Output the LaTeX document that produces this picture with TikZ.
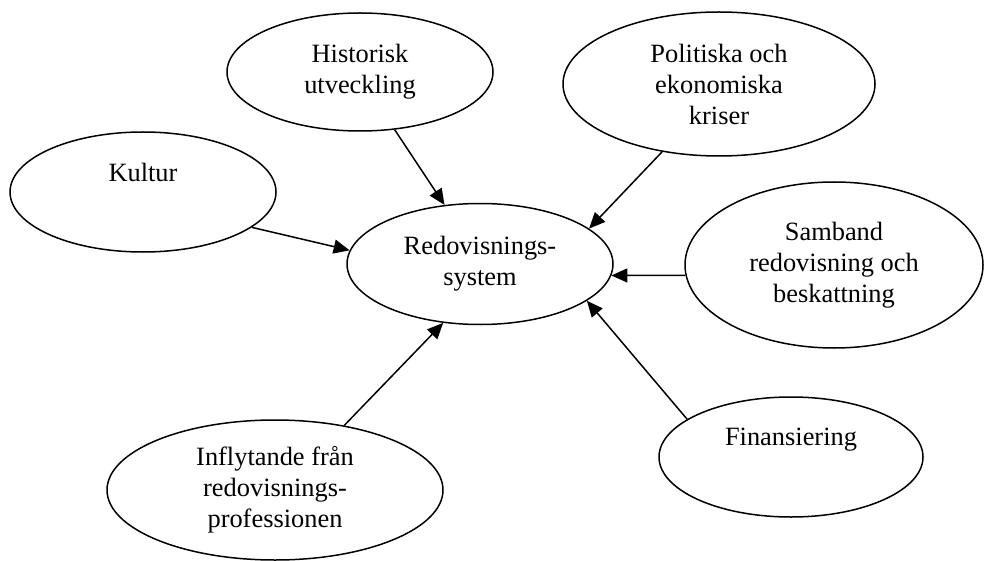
\documentclass[tikz,border=0pt]{standalone}
\usepackage{fontspec}
\setmainfont{Liberation Serif}
\usetikzlibrary{shapes.geometric,arrows.meta}
\begin{document}
\begin{tikzpicture}[x=0.5pt,y=-0.5pt,
  bubble/.style={draw=black, line width=0.75pt, ellipse, inner sep=0pt,
    align=center, font=\fontsize{13.2}{15.5}\selectfont},
  arr/.style={draw=black, line width=0.75pt, -{Triangle[length=8pt,width=7pt]}}]
\useasboundingbox (0,0) rectangle (984,561);
\node[bubble, minimum width=133pt, minimum height=59pt] (hist) at (360,72) {Historisk\\utveckling};
\node[bubble, minimum width=156pt, minimum height=72pt] (pol) at (719,84) {Politiska och\\ekonomiska\\kriser};
\node[bubble, minimum width=133pt, minimum height=60pt] (kul) at (143,192) {Kultur\\\strut};
\node[bubble, minimum width=133pt, minimum height=60.5pt] (red) at (480,264) {Redovisnings-\\system};
\node[bubble, minimum width=149pt, minimum height=83pt] (sam) at (834,265) {Samband\\redovisning och\\beskattning};
\node[bubble, minimum width=132pt, minimum height=60pt] (fin) at (791,457) {Finansiering\\\strut};
\node[bubble, minimum width=168pt, minimum height=70pt] (inf) at (275,490) {Inflytande från\\redovisnings-\\professionen};
\draw[arr] (hist.-59.7) -- (red.121.7);
\draw[arr] (kul.-18.6) -- (red.174);
\draw[arr] (pol.230.6) -- (red.18.9);
\draw[arr] (sam.184.2) -- (red.-5.2);
\draw[arr] (fin.160.9) -- (red.-19.9);
\draw[arr] (inf.43.8) -- (red.238.8);
\end{tikzpicture}
\end{document}
